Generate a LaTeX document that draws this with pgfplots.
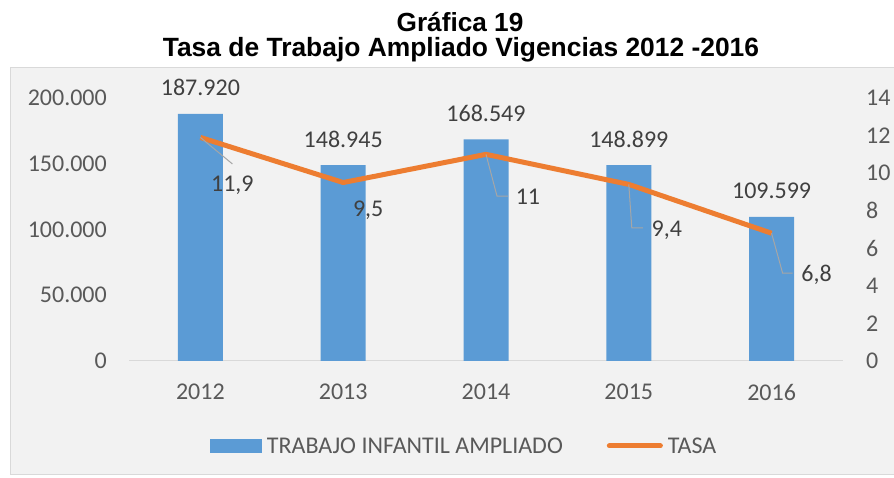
\documentclass[border=0pt]{standalone}
\usepackage{fontspec}
\setmainfont{Carlito}
\newfontfamily\titlefont{Liberation Sans}
\usepackage{pgfplots}
\pgfplotsset{compat=1.18}
\definecolor{barblue}{HTML}{5B9BD5}
\definecolor{lineorange}{HTML}{ED7D31}
\definecolor{tickgray}{HTML}{595959}
\definecolor{labelgray}{HTML}{404040}
\definecolor{axisgray}{HTML}{D9D9D9}
\definecolor{bggray}{HTML}{F2F2F2}
\definecolor{leadgray}{HTML}{A6A6A6}
\newcommand{\lblfont}{\fontsize{24}{28}\selectfont}
\begin{document}
\begin{tikzpicture}[x=1pt,y=1pt]
\fill[white] (0,0) rectangle (894,478);
\useasboundingbox (0,0) rectangle (894,478);
\filldraw[fill=bggray, draw=axisgray, line width=1pt] (10.5,3) rectangle (900,410);
\node[font=\titlefont\bfseries\fontsize{26.2}{30}\selectfont, anchor=base] at (460,446) {Gráfica 19};
\node[font=\titlefont\bfseries\fontsize{26.4}{30}\selectfont, anchor=base] at (461,421) {Tasa de Trabajo Ampliado Vigencias 2012 -2016};

\begin{axis}[
  at={(129pt,117pt)}, anchor=south west, scale only axis,
  width=714pt, height=263pt,
  xmin=-0.5, xmax=4.5, ymin=0, ymax=200000,
  clip=false,
  axis x line*=bottom, axis y line*=left,
  y axis line style={draw=none},
  x axis line style={draw=axisgray, line width=1pt},
  tick style={draw=none}, major tick length=0pt,
  xtick={0,1,2,3,4}, xticklabels={2012,2013,2014,2015,2016},
  ytick={0,50000,100000,150000,200000},
  scaled y ticks=false,
  /pgf/number format/.cd, fixed, precision=0, 1000 sep={.}, assume math mode=true,
  /pgfplots/.cd,
  ticklabel style={font=\lblfont, text=tickgray, inner sep=0pt},
  xticklabel style={anchor=north, yshift=-23pt},
  yticklabel style={anchor=east, xshift=-22pt},
  ybar, bar width=45pt,
  nodes near coords,
  nodes near coords style={font=\lblfont, text=labelgray, anchor=base, inner sep=0pt, yshift=18pt},
  legend style={draw=none, fill=none, inner sep=0pt, outer sep=0pt,
    at={(0.1134,-0.3232)}, anchor=west, legend columns=2,
    font=\lblfont, text=tickgray,
    nodes={inner sep=0pt},
    /tikz/every odd column/.append style={column sep=5pt},
    /tikz/every even column/.append style={column sep=44pt}},
]
\addplot[fill=barblue, draw=none,
  legend image code/.code={\fill[barblue] (0pt,-7pt) rectangle (52pt,7pt);}]
  coordinates {(0,187920) (1,148945) (2,168549) (3,148899) (4,109599)};
\addlegendentry{TRABAJO INFANTIL AMPLIADO}
\addlegendimage{legend image code/.code={\draw[lineorange, line width=5pt, line cap=round] (2.5pt,0pt) -- (53.5pt,0pt);}}
\addlegendentry{TASA}
\end{axis}

\begin{axis}[
  at={(129pt,117pt)}, anchor=south west, scale only axis,
  width=714pt, height=263pt,
  xmin=-0.5, xmax=4.5, ymin=0, ymax=14,
  clip=false,
  axis x line=none, axis y line*=right,
  y axis line style={draw=none},
  tick style={draw=none}, major tick length=0pt,
  ytick={0,2,4,6,8,10,12,14},
  /pgf/number format/assume math mode=true,
  yticklabel style={font=\lblfont, text=tickgray, anchor=west, inner sep=0pt, xshift=23pt},
]
\addplot[lineorange, line width=5pt, line join=round, mark=none]
  coordinates {(0,11.9) (1,9.5) (2,11) (3,9.4) (4,6.8)};
\draw[leadgray, line width=1pt] (axis cs:0,11.9) -- (axis cs:0.224,10.49);
\draw[leadgray, line width=1pt] (axis cs:2,11) -- (axis cs:2.077,8.78) -- (axis cs:2.154,8.78);
\draw[leadgray, line width=1pt] (axis cs:3,9.4) -- (axis cs:3.021,7.08) -- (axis cs:3.098,7.08);
\draw[leadgray, line width=1pt] (axis cs:4,6.8) -- (axis cs:4.077,4.68) -- (axis cs:4.147,4.68);
\node[font=\lblfont, text=labelgray] at (axis cs:0.224,9.37) {11,9};
\node[font=\lblfont, text=labelgray] at (axis cs:1.175,8.04) {9,5};
\node[font=\lblfont, text=labelgray] at (axis cs:2.294,8.73) {11};
\node[font=\lblfont, text=labelgray] at (axis cs:3.266,6.97) {9,4};
\node[font=\lblfont, text=labelgray] at (axis cs:4.315,4.58) {6,8};
\end{axis}
\end{tikzpicture}
\end{document}
